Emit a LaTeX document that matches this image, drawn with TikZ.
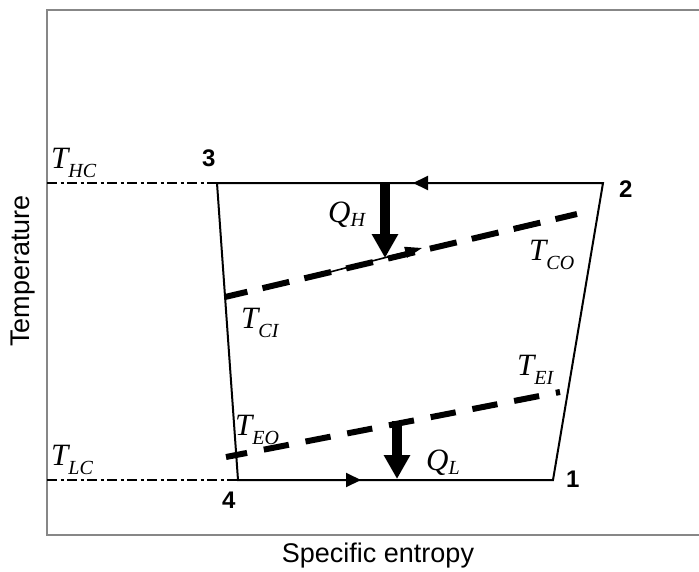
\documentclass[tikz,border=0pt]{standalone}
\usepackage{fontspec}
\setmainfont{Liberation Serif}
\newfontfamily\arialfont{Liberation Sans}
\usetikzlibrary{arrows.meta}
\newcommand\TT[2]{{\fontsize{31}{31}\selectfont\itshape #1}\raisebox{-9pt}{\fontsize{20}{20}\selectfont\itshape #2}}
\newcommand\QQ[2]{{\fontsize{31}{31}\selectfont\itshape #1}\raisebox{-4pt}{\fontsize{20}{20}\selectfont\itshape #2}}
\tikzset{
  frameline/.style={draw=black!47, line width=2.6pt},
  cycleline/.style={line width=2pt, line join=miter},
  levelline/.style={line width=2.6pt, dash pattern=on 10pt off 3.5pt on 3pt off 3.5pt},
  hxline/.style={line width=6pt},
  flowarrow/.style={line width=2pt, -{Triangle[length=15pt,width=14pt]}},
  heatarrow/.style={line width=9.5pt, -{Triangle[length=24pt,width=25pt]}},
  lbl/.style={inner sep=0pt, anchor=base west},
  numlbl/.style={inner sep=0pt, anchor=base west, font=\arialfont\bfseries\fontsize{24}{24}\selectfont},
  axislbl/.style={inner sep=0pt, font=\arialfont\fontsize{27}{27}\selectfont}
}
\begin{document}
\begin{tikzpicture}[x=1pt,y=-1pt]
\useasboundingbox (0,0) rectangle (699,571);
\clip (0,0) rectangle (699,571);
% frame
\draw[frameline] (720,10) -- (47,10) -- (47,535) -- (720,535);
% cycle corners
\coordinate (p3) at (217,183);
\coordinate (p2) at (603,183);
\coordinate (p1) at (553,480);
\coordinate (p4) at (238,480);
\coordinate (hc) at (47,183);
\coordinate (lc) at (47,480);
% level lines
\draw[levelline] (hc) -- (p3);
\draw[levelline] (lc) -- (p4);
% cycle
\draw[cycleline] (p3) -- (p2) -- (p1) -- (p4) -- cycle;
% flow arrows
\coordinate (ta1) at (470,183);
\coordinate (ta2) at (413,183);
\coordinate (ba1) at (305,480);
\coordinate (ba2) at (361,480);
\draw[flowarrow] (ta1) -- (ta2);
\draw[flowarrow] (ba1) -- (ba2);
% condenser fluid line
\coordinate (ci) at (225,297);
\coordinate (co) at (577,214);
\draw[hxline, dash pattern=on 27.5pt off 15.5pt, dash phase=4.5pt] (ci) -- (co);
\coordinate (ca1) at (330,272);
\coordinate (ca2) at (422,248);
\draw[line width=1.6pt, -{Triangle[length=17pt,width=11pt]}] (ca1) -- (ca2);
% evaporator fluid line
\coordinate (eo) at (226,457);
\coordinate (ei) at (560,392);
\draw[hxline, dash pattern=on 25.5pt off 17pt, dash phase=4pt] (eo) -- (ei);
% heat arrows
\coordinate (qh1) at (385,183);
\coordinate (qh2) at (385,258);
\coordinate (ql1) at (397,421);
\coordinate (ql2) at (397,479);
\draw[heatarrow] (qh1) -- (qh2);
\draw[heatarrow] (ql1) -- (ql2);
% labels
\node[lbl] (lhc) at (51,168) {\TT{T}{HC}};
\node[lbl] (llc) at (51,465) {\TT{T}{LC}};
\node[lbl] (lci) at (241,328) {\TT{T}{CI}};
\node[lbl] (lco) at (529,260) {\TT{T}{CO}};
\node[lbl] (lei) at (517,375) {\TT{T}{EI}};
\node[lbl] (leo) at (235,435) {\TT{T}{EO}};
\node[lbl] (lqh) at (328,222) {\QQ{Q}{H}};
\node[lbl] (lql) at (426,470) {\QQ{Q}{L}};
\node[numlbl] (n3) at (202,166) {3};
\node[numlbl] (n2) at (619,197) {2};
\node[numlbl] (n1) at (566,487) {1};
\node[numlbl] (n4) at (222,508) {4};
\node[axislbl, rotate=90] (ylab) at (23,271) {Temperature};
\node[axislbl] (xlab) at (378,556) {Specific entropy};
\end{tikzpicture}
\end{document}
